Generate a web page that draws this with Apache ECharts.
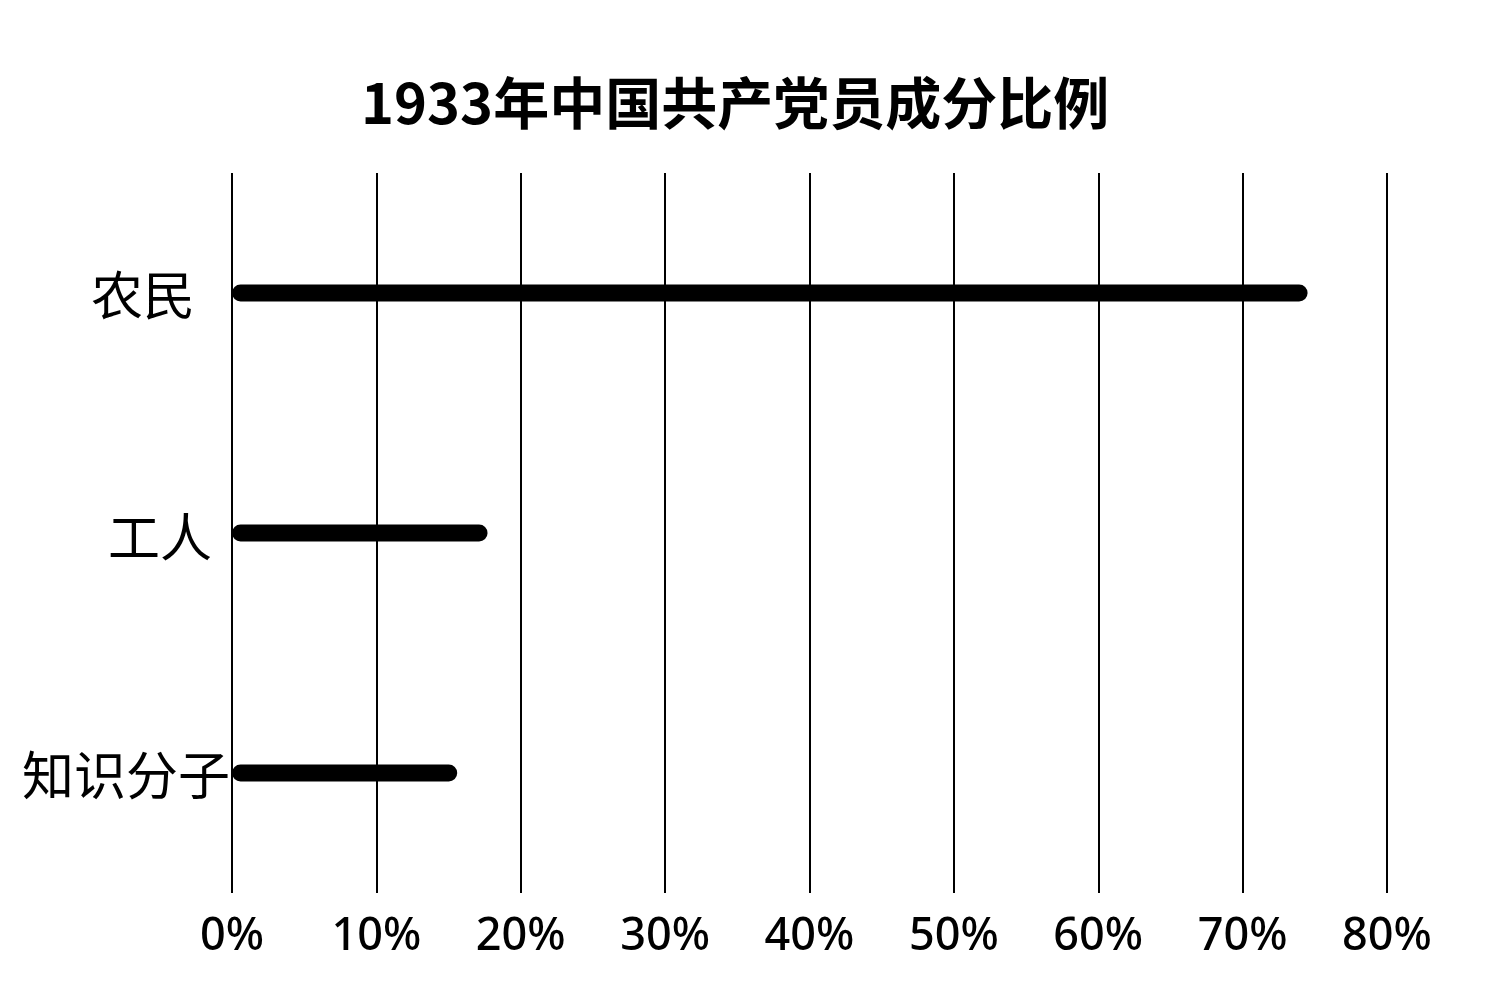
<!DOCTYPE html>
<html>
<head>
<meta charset="utf-8">
<script src="https://cdn.jsdelivr.net/npm/echarts@6/dist/echarts.min.js"></script>
<style>html,body{margin:0;padding:0;background:#fff}#c{width:1500px;height:1007px}</style>
</head>
<body>
<div id="c"></div>
<script>
const titleText = '1933年中国共产党员成分比例';
const categories = ['农民', '工人', '知识分子'];
const values = [74.5, 17.7, 15.6];
const tickMin = 0, tickMax = 80, tickStep = 10;

const labelFont = { fontFamily: '"Noto Sans CJK SC", sans-serif', fontSize: 52, color: '#000' };
const chart = echarts.init(document.getElementById('c'));
chart.setOption({
  backgroundColor: '#ffffff',
  animation: false,
  title: {
    text: titleText,
    left: 356,
    top: 70,
    textStyle: { fontFamily: '"Noto Sans CJK SC", sans-serif', fontSize: 56, fontWeight: 'bold', color: '#000' }
  },
  grid: { left: 232, right: 113, top: 173, bottom: 114, containLabel: false },
  xAxis: {
    type: 'value', min: tickMin, max: tickMax, interval: tickStep,
    axisLine: { show: false }, axisTick: { show: false },
    splitLine: { show: true, lineStyle: { color: '#000', width: 2 } },
    axisLabel: {
      formatter: v => v + '%', margin: 22,
      fontFamily: '"Noto Sans", sans-serif', fontWeight: 500,
      fontSize: 45, color: '#000'
    }
  },
  yAxis: {
    type: 'category', data: categories, inverse: true,
    axisLine: { show: false }, axisTick: { show: false }, splitLine: { show: false },
    axisLabel: {
      margin: 2,
      formatter: (v, i) => '{s' + i + '|' + v + '}',
      rich: {
        s0: Object.assign({ padding: [4, 35, 0, 0] }, labelFont),
        s1: Object.assign({ padding: [8, 18, 0, 0] }, labelFont),
        s2: Object.assign({ padding: [4, 0, 0, 0] }, labelFont)
      }
    }
  },
  series: [{
    type: 'bar', data: values, barWidth: 17,
    itemStyle: { color: '#000', borderRadius: 8.5 }
  }]
});
</script>
</body>
</html>
